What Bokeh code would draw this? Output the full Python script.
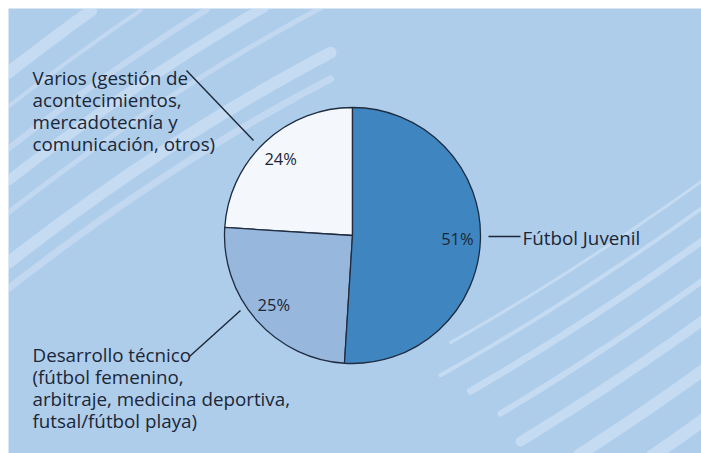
import numpy as np
from bokeh.plotting import figure
from bokeh.models import ColumnDataSource, Range1d
from bokeh.embed import file_html
from bokeh.resources import INLINE
from bokeh.core.properties import value

# ---- data ----
categories = ["Varios", "Desarrollo técnico", "Fútbol Juvenil"]
shares = [24, 25, 51]
pct_labels = ["24%", "25%", "51%"]
label_lines = [
    ["Varios (gestión de", "acontecimientos,", "mercadotecnía y", "comunicación, otros)"],
    ["Desarrollo técnico", "(fútbol femenino,", "arbitraje, medicina deportiva,", "futsal/fútbol playa)"],
    ["Fútbol Juvenil"],
]

# ---- style / layout ----
colors = ["#f4f8fd", "#98b7dc", "#3f86c1"]
BG = "#aecdeb"
INK = "#1b2637"
FONT = "Open Sans"
W, H = 693, 445


def X(px):
    return px - 8


def Y(py):
    return H - (py - 8)


p = figure(width=W + 8, height=H + 8, x_range=Range1d(0, W), y_range=Range1d(0, H),
           output_backend="svg", toolbar_location=None,
           min_border_left=8, min_border_top=8, min_border_right=0, min_border_bottom=0,
           x_axis_location=None, y_axis_location=None)
p.grid.visible = False
p.outline_line_color = None
p.background_fill_color = BG
p.border_fill_color = "white"

# ---- decorative background streaks ----
xs, ys, ws, als = [], [], [], []
# upper-left group: (y at left edge, width, alpha)
for b, w, a in [(72, 12, 0.4), (106, 4, 0.35), (148, 6, 0.35), (180, 10, 0.4),
                (212, 5, 0.35), (262, 12, 0.4), (288, 7, 0.35)]:
    t = np.linspace(8, 330, 40)
    yy = b - 0.78 * (t - 8) + 0.0004 * (t - 8) ** 2
    m = yy >= 6
    xs.append(list(X(t[m]))); ys.append(list(Y(yy[m]))); ws.append(w); als.append(a)
# lower-right group: (y at right edge, start x, width, alpha)
for c, x0, w, a in [(178, 450, 3, 0.4), (205, 440, 4, 0.4), (238, 470, 7, 0.4),
                    (278, 500, 6, 0.4), (318, 520, 10, 0.4), (368, 560, 12, 0.4),
                    (418, 610, 13, 0.4)]:
    t = np.linspace(x0, 705, 40)
    yy = c + 0.72 * (705 - t) - 0.0003 * (705 - t) ** 2
    m = yy <= 456
    xs.append(list(X(t[m]))); ys.append(list(Y(yy[m]))); ws.append(w); als.append(a)
p.multi_line(xs="xs", ys="ys", line_width="w", line_alpha="a", line_color="#e6effa",
             line_cap="round",
             source=ColumnDataSource(dict(xs=xs, ys=ys, w=ws, a=als)))

# ---- pie ----
cx, cy, R = X(352), Y(235), 128
frac = np.array(shares, dtype=float) / sum(shares)
cum = np.concatenate([[0], np.cumsum(frac)])
start = np.pi / 2 + 2 * np.pi * cum[:-1]
end = np.pi / 2 + 2 * np.pi * cum[1:]
mid = (start + end) / 2

src = ColumnDataSource(dict(cat=categories, start=start, end=end, color=colors))
p.wedge(x=cx, y=cy, radius=R, start_angle="start", end_angle="end",
        direction="anticlock", fill_color="color", line_color="#1f2c40",
        line_width=1.3, source=src)

p.text(x=list(cx + 0.82 * R * np.cos(mid)), y=list(cy + 0.82 * R * np.sin(mid)),
       text=pct_labels, text_align="center", text_baseline="middle",
       text_font=value(FONT), text_font_size="16.5px", text_color=INK)

# ---- leader lines ----
lead_from = [(253, 140), (240, 310), (488, 236)]
lead_to = [(186, 70), (189, 356), (520, 236)]
p.multi_line(xs=[[X(a[0]), X(b[0])] for a, b in zip(lead_from, lead_to)],
             ys=[[Y(a[1]), Y(b[1])] for a, b in zip(lead_from, lead_to)],
             line_color=INK, line_width=1.4)

# ---- category labels ----
anchors = [(32, 77), (32, 354), (522, 237)]
step = 22.3
tx, ty, tt = [], [], []
for (ax, ay), lines in zip(anchors, label_lines):
    for i, s in enumerate(lines):
        tx.append(X(ax)); ty.append(Y(ay + i * step)); tt.append(s)
p.text(x=tx, y=ty, text=tt, text_align="left", text_baseline="alphabetic",
       text_font=value(FONT), text_font_size="18.8px", text_color=INK)

open("out.html", "w").write(file_html(p, INLINE))
